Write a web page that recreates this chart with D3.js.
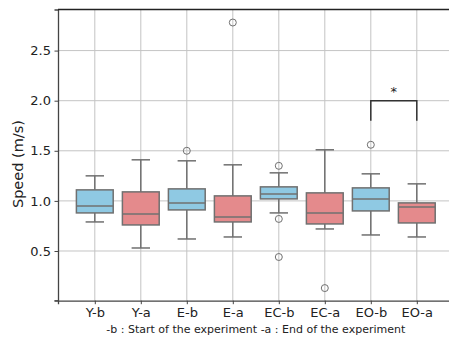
<!DOCTYPE html>
<html>
<head>
<meta charset="utf-8">
<script src="https://cdn.jsdelivr.net/npm/d3@7"></script>
<style>
  body { margin: 0; background: #fff; }
  text { font-family: "DejaVu Sans", sans-serif; fill: #222; }
</style>
</head>
<body>
<div class="chart"></div>
<script>
// box stats
let categories = ['Y-b', 'Y-a', 'E-b', 'E-a', 'EC-b', 'EC-a', 'EO-b', 'EO-a'];
let whiskerLow  = [0.79, 0.53, 0.62, 0.64, 0.88, 0.72, 0.66, 0.64];
let q1          = [0.88, 0.76, 0.91, 0.79, 1.02, 0.77, 0.90, 0.78];
let medians     = [0.95, 0.87, 0.98, 0.84, 1.07, 0.88, 1.02, 0.94];
let q3          = [1.11, 1.09, 1.12, 1.05, 1.14, 1.08, 1.13, 0.98];
let whiskerHigh = [1.25, 1.41, 1.40, 1.36, 1.28, 1.51, 1.27, 1.17];
let outliers    = [[], [], [1.50], [2.78], [1.35, 0.82, 0.44], [0.13], [1.56], []];
let yTicks = [0.5, 1.0, 1.5, 2.0, 2.5];

let colors = ['#8fc9e3', '#e48a8c'];

let width = 449, height = 337;
let margin = { left: 58, top: 9.5, right: 453.6, bottom: 300.7 };

let svg = d3.select('.chart').append('svg')
    .attr('width', width)
    .attr('height', height);

let x = d3.scaleLinear().domain([-0.8, 7.8]).range([margin.left, margin.right]);
let y = d3.scaleLinear().domain([0.004, 2.91]).range([margin.bottom, margin.top]);

let data = categories.map((c, i) => ({
  cat: c, i: i,
  lo: whiskerLow[i], q1: q1[i], med: medians[i], q3: q3[i], hi: whiskerHigh[i],
  out: outliers[i], fill: colors[i % 2]
}));

/////// GRID ///////////////////////////////////////

let grid = svg.append('g');
grid.selectAll('.hgrid').data(yTicks).enter().append('line')
    .attr('x1', margin.left).attr('x2', margin.right)
    .attr('y1', d => y(d)).attr('y2', d => y(d))
    .attr('stroke', '#c4c4c4').attr('stroke-width', 1);
grid.selectAll('.vgrid').data(data).enter().append('line')
    .attr('x1', d => x(d.i)).attr('x2', d => x(d.i))
    .attr('y1', margin.top).attr('y2', margin.bottom)
    .attr('stroke', '#c4c4c4').attr('stroke-width', 1);

/////// BOXES ///////////////////////////////////////

let line = '#707070';
let boxes = svg.append('g').selectAll('g').data(data).enter().append('g');

boxes.append('line')
    .attr('x1', d => x(d.i)).attr('x2', d => x(d.i))
    .attr('y1', d => y(d.lo)).attr('y2', d => y(d.q1))
    .attr('stroke', line).attr('stroke-width', 1.5);
boxes.append('line')
    .attr('x1', d => x(d.i)).attr('x2', d => x(d.i))
    .attr('y1', d => y(d.q3)).attr('y2', d => y(d.hi))
    .attr('stroke', line).attr('stroke-width', 1.5);
boxes.append('line')
    .attr('x1', d => x(d.i - 0.2)).attr('x2', d => x(d.i + 0.2))
    .attr('y1', d => y(d.lo)).attr('y2', d => y(d.lo))
    .attr('stroke', line).attr('stroke-width', 1.5);
boxes.append('line')
    .attr('x1', d => x(d.i - 0.2)).attr('x2', d => x(d.i + 0.2))
    .attr('y1', d => y(d.hi)).attr('y2', d => y(d.hi))
    .attr('stroke', line).attr('stroke-width', 1.5);
boxes.append('rect')
    .attr('x', d => x(d.i - 0.4))
    .attr('width', d => x(d.i + 0.4) - x(d.i - 0.4))
    .attr('y', d => y(d.q3))
    .attr('height', d => y(d.q1) - y(d.q3))
    .attr('fill', d => d.fill)
    .attr('stroke', line).attr('stroke-width', 1.5);
boxes.append('line')
    .attr('x1', d => x(d.i - 0.4)).attr('x2', d => x(d.i + 0.4))
    .attr('y1', d => y(d.med)).attr('y2', d => y(d.med))
    .attr('stroke', line).attr('stroke-width', 1.5);
boxes.each(function(d) {
  d3.select(this).selectAll('circle').data(d.out).enter().append('circle')
      .attr('cx', x(d.i)).attr('cy', v => y(v)).attr('r', 3.5)
      .attr('fill', 'none').attr('stroke', line).attr('stroke-width', 1);
});

/////// SIGNIFICANCE ///////////////////////////////////////

let bracket = [{ a: 6, b: 7, top: 2.0, foot: 1.8, label: '*' }];
bracket.forEach(br => {
  svg.append('path')
      .attr('d', `M${x(br.a)},${y(br.foot)}V${y(br.top)}H${x(br.b)}V${y(br.foot)}`)
      .attr('fill', 'none').attr('stroke', '#333').attr('stroke-width', 1.5);
  svg.append('text')
      .attr('x', (x(br.a) + x(br.b)) / 2).attr('y', y(br.top) - 5)
      .attr('text-anchor', 'middle').style('font-size', '13px')
      .text(br.label);
});

/////// AXES ///////////////////////////////////////

let yAxis = svg.append('g')
    .attr('transform', `translate(${margin.left},0)`)
    .call(d3.axisLeft(y).tickValues(yTicks).tickFormat(d3.format('.1f')).tickSize(3.5).tickPadding(3.5));
let xAxis = svg.append('g')
    .attr('transform', `translate(0,${margin.bottom})`)
    .call(d3.axisBottom(x).tickValues(d3.range(categories.length))
      .tickFormat(i => categories[i]).tickSize(3.5).tickPadding(3.5));

[yAxis, xAxis].forEach(ax => {
  ax.select('.domain').attr('stroke', '#444').attr('stroke-width', 1.3);
  ax.selectAll('.tick line').attr('stroke', '#444');
  ax.selectAll('.tick text').style('font-size', '13px')
      .style('font-family', '"DejaVu Sans", sans-serif').attr('fill', '#222');
});

// top spine
svg.append('line')
    .attr('x1', margin.left).attr('x2', margin.right)
    .attr('y1', margin.top).attr('y2', margin.top)
    .attr('stroke', '#222').attr('stroke-width', 1.3);

// small tick at the bottom of the y axis
svg.append('line')
    .attr('x1', margin.left - 3.5).attr('x2', margin.left)
    .attr('y1', margin.bottom).attr('y2', margin.bottom)
    .attr('stroke', '#444');

svg.append('text')
    .attr('transform', `translate(23,${(margin.top + margin.bottom) / 2 + 9}) rotate(-90)`)
    .attr('text-anchor', 'middle').style('font-size', '14.5px')
    .text('Speed (m/s)');

svg.append('text')
    .attr('x', (margin.left + margin.right) / 2).attr('y', 333)
    .attr('text-anchor', 'middle').style('font-size', '11px')
    .text('-b : Start of the experiment -a : End of the experiment');
</script>
</body>
</html>
